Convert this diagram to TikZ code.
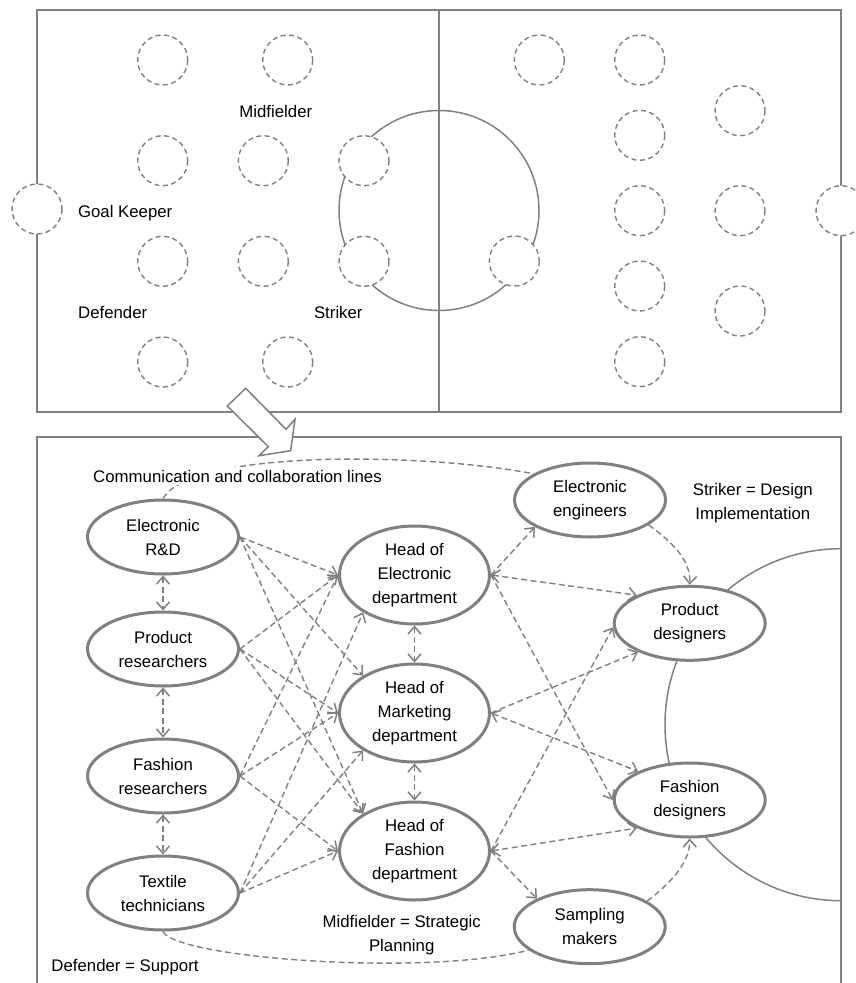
\documentclass[tikz,border=0pt]{standalone}
\usepackage{fontspec}
\setmainfont{Liberation Sans}
\usetikzlibrary{shapes.geometric,arrows.meta}
\definecolor{lineg}{RGB}{128,128,128}
\tikzset{
  pitch/.style={draw=lineg, line width=2pt},
  ring/.style={draw=lineg, line width=1.5pt},
  player/.style={draw=lineg, fill=white, line width=1.4pt, dash pattern=on 5pt off 3.5pt},
  bigarrow/.style={draw=lineg, fill=white, line width=1.5pt, line join=miter},
  role/.style={ellipse, draw=lineg, line width=3pt, fill=white, inner sep=0pt,
    minimum width=151pt, minimum height=74pt, align=center},
  head/.style={role, minimum width=150pt, minimum height=98pt},
  tip/.tip={Straight Barb[length=7.5pt,width=13pt,line width=1.5pt]},
  link/.style={draw=lineg, line width=1.4pt, dash pattern=on 6pt off 3.5pt, -tip},
  twoway/.style={link, tip-tip},
  loose/.style={draw=lineg, line width=1.4pt, dash pattern=on 6pt off 3.5pt},
  lbl/.style={anchor=base, inner sep=0pt},
  note/.style={align=center, inner sep=0pt}
}
\begin{document}
\begin{tikzpicture}[x=1pt, y=-1pt, font=\fontsize{16.8}{24}\selectfont]
\useasboundingbox (0,0) rectangle (856,983);
\clip (0,0) rectangle (856,983);

% ---------- football pitch ----------
\draw[pitch] (37,10) rectangle (841,411.7);
\draw[pitch] (439,10) -- (439,411.7);
\draw[ring] (439,210.5) circle[radius=100];
\foreach \px/\py in {37/209, 162.7/60, 287.7/60, 162.7/160.7, 263.3/160.7, 364/160.7,
    162.7/261.3, 263.3/261.3, 364/261.3, 162.7/362, 287.7/362,
    841/210.7, 539.3/60, 639.7/60, 740/110.7, 639.7/135.3, 639.7/210.7, 740/210.7,
    514.3/261, 639.7/286, 740/311, 639.7/361.7}
  \draw[player] (\px,\py) circle[radius=25];

\node[lbl] (tmid) at (275.8,117.7) {Midfielder};
\node[lbl] (tgk)  at (125.2,217.7) {Goal Keeper};
\node[lbl] (tdef) at (112.7,318.3) {Defender};
\node[lbl] (tstr) at (338.3,318.3) {Striker};

% ---------- organisation field ----------
\draw[pitch] (37,983) -- (37,436.7) -- (841,436.7) -- (841,983);
\draw[bigarrow] (245.7,388.3) -- (286,429.3) -- (295,419.3) -- (290.7,450.7)
  -- (259,455.7) -- (268.3,446.7) -- (227.3,406) -- cycle;
\draw[ring] (841,548.7) arc[start angle=270, end angle=90, radius=176];

% defenders
\node[role] (erd) at (163,537)   {Electronic\\R\&D};
\node[role] (pr)  at (163,649)   {Product\\researchers};
\node[role] (fr)  at (163,776)   {Fashion\\researchers};
\node[role] (tt)  at (163,893)   {Textile\\technicians};
% midfielders
\node[head] (he) at (414.5,575) {Head of\\Electronic\\department};
\node[head] (hm) at (414.5,713) {Head of\\Marketing\\department};
\node[head] (hf) at (414.5,851) {Head of\\Fashion\\department};
% strikers
\node[role] (ee) at (590,500)     {Electronic\\engineers};
\node[role] (pd) at (689.7,623.3) {Product\\designers};
\node[role] (fd) at (689.7,800)   {Fashion\\designers};
\node[role] (sm) at (589.7,926.7) {Sampling\\makers};

% links within each line
\draw[twoway] (erd) -- (pr);
\draw[twoway] (pr) -- (fr);
\draw[twoway] (fr) -- (tt);
\draw[twoway] (he) -- (hm);
\draw[twoway] (hm) -- (hf);

% defenders to midfielders
\draw[link] (erd.east) -- (he.west);
\draw[link] (erd.east) -- (hm.144);
\draw[link] (erd.east) -- (hf.144);
\draw[link] (pr.east) -- (he.west);
\draw[link] (pr.east) -- (hm.west);
\draw[link] (pr.east) -- (hf.144);
\draw[link] (fr.east) -- (he.west);
\draw[link] (fr.east) -- (hm.west);
\draw[link] (fr.east) -- (hf.west);
\draw[link] (tt.east) -- (he.216);
\draw[link] (tt.east) -- (hm.216);
\draw[link] (tt.east) -- (hf.west);

% midfielders to strikers
\draw[link]   (he.east) -- (ee.206);
\draw[twoway] (he.east) -- (pd.152);
\draw[link]   (he.east) -- (fd.west);
\draw[link]   (hm.east) -- (pd.209);
\draw[twoway] (hm.east) -- (fd.151);
\draw[twoway] (hf.east) -- (fd.208);
\draw[link]   (hf.east) -- (sm.152);
\draw[link]   (hf.east) -- (pd.183);

% among strikers
\draw[link] (ee.337) .. controls (672,542) and (691,560) .. (pd.north);
\draw[link] (sm.24) .. controls (672,882) and (690,862) .. (fd.south);

% communication and collaboration lines
\draw[loose] (erd.north) .. controls (190,450) and (420,452) .. (ee.155);
\draw[loose] (tt.south) .. controls (175,958) and (425,977) .. (sm.201);

\node[lbl, fill=white, inner sep=3pt] (comm) at (237.5,482) {Communication and collaboration lines};
\node[note] (kstr) at (752.8,503) {Striker = Design\\Implementation};
\node[note] (kmid) at (401.7,935.3) {Midfielder = Strategic\\Planning};
\node[lbl] (kdef) at (125,971) {Defender = Support};
\end{tikzpicture}
\end{document}
